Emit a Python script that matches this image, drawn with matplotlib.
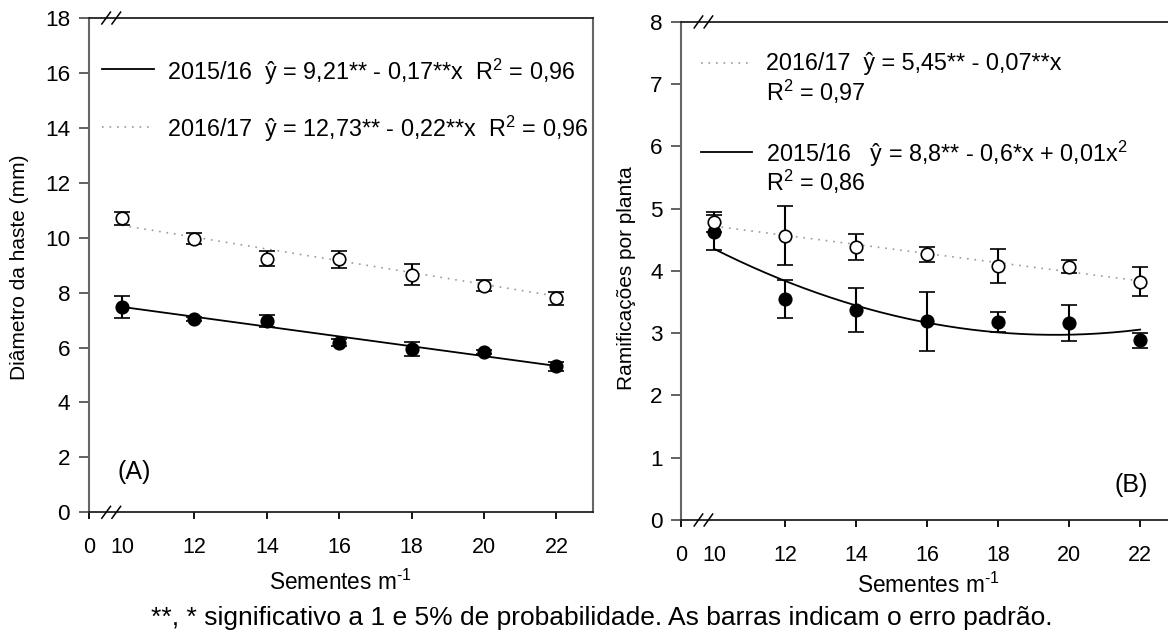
import numpy as np
import matplotlib
matplotlib.use("Agg")
import matplotlib.pyplot as plt
from matplotlib.lines import Line2D

plt.rcParams['font.family'] = ['Liberation Sans', 'DejaVu Sans']
plt.rcParams['mathtext.fontset'] = 'custom'
plt.rcParams['mathtext.rm'] = 'Liberation Sans'
plt.rcParams['mathtext.it'] = 'Liberation Sans:italic'

# dados
sementes = [10, 12, 14, 16, 18, 20, 22]

# (A) diâmetro da haste (mm)
diam_1516 = [7.48, 7.03, 6.97, 6.18, 5.94, 5.84, 5.32]
diam_1516_err = [0.40, 0.07, 0.22, 0.14, 0.25, 0.08, 0.17]
diam_1617 = [10.70, 9.96, 9.24, 9.21, 8.66, 8.25, 7.79]
diam_1617_err = [0.23, 0.20, 0.27, 0.30, 0.40, 0.20, 0.24]
fit_diam_1516 = [7.48, 5.33]   # reta nos extremos x=10 e x=22
fit_diam_1617 = [10.45, 7.87]

# (B) ramificações por planta
ram_1516 = [4.62, 3.55, 3.37, 3.19, 3.18, 3.17, 2.89]
ram_1516_err = [0.28, 0.31, 0.35, 0.47, 0.16, 0.29, 0.12]
ram_1617 = [4.78, 4.57, 4.39, 4.27, 4.08, 4.07, 3.83]
ram_1617_err = [0.16, 0.48, 0.21, 0.12, 0.28, 0.10, 0.23]
fit_ram_1617 = [4.72, 3.84]
curva_ram_1516 = [4.36, 3.83, 3.45, 3.17, 3.02, 2.97, 3.06]  # curva lida em cada x

leg_a = ["2015/16  ŷ = 9,21** - 0,17**x  $\\mathregular{R^2}$ = 0,96",
         "2016/17  ŷ = 12,73** - 0,22**x  $\\mathregular{R^2}$ = 0,96"]
leg_b = ["2016/17  ŷ = 5,45** - 0,07**x", "$\\mathregular{R^2}$ = 0,97",
         "2015/16   ŷ = 8,8** - 0,6*x + 0,01x$\\mathregular{^2}$", "$\\mathregular{R^2}$ = 0,86"]
xlabel = "Sementes m$\\mathregular{^{\u20101}}$"

x0 = 9.08  # posição do "0" (eixo quebrado)
fs = 15.5   # números dos eixos
fs_leg = 16.8

fig = plt.figure(figsize=(11.68, 6.35), dpi=100)
ax_a = fig.add_axes([0.0760, 0.1932, 0.4314, 0.7784])
ax_b = fig.add_axes([0.5834, 0.1811, 0.4231, 0.7843])

dot = dict(color='#9a9a9a', lw=1.2, linestyle=(0, (1, 3.5)))
sol = dict(color='black', lw=1.3)


def pontos(ax, y, err, fill):
    ax.errorbar(sementes, y, yerr=err, fmt='o', ms=9, mfc=fill, mec='black',
                mew=1.2, ecolor='black', elinewidth=1.5, capsize=6, capthick=1.5,
                zorder=3)


def estilo(ax, ymax, ystep):
    ax.set_xlim(x0, 23)
    ax.set_ylim(0, ymax)
    ax.set_yticks(np.arange(0, ymax + 0.1, ystep))
    ax.set_xticks([x0, 10, 12, 14, 16, 18, 20, 22])
    ax.set_xticklabels(['0', '10', '12', '14', '16', '18', '20', '22'])
    ax.xaxis.get_major_ticks()[1].tick1line.set_visible(False)
    ax.tick_params(axis='x', direction='out', length=5, width=1.3, pad=13, labelsize=fs)
    ax.tick_params(axis='y', direction='out', length=7.5, width=1.3, pad=6, labelsize=16.2,
                   color='#555555')
    for s in ['left', 'right']:
        ax.spines[s].set_color('#666666')
        ax.spines[s].set_linewidth(1.5)
    for s in ['top', 'bottom']:
        ax.spines[s].set_color('#222222')
        ax.spines[s].set_linewidth(1.3)
    # marcas de quebra do eixo x
    tr = ax.get_xaxis_transform()
    for yb in [0, 1]:
        for xc in [9.56, 9.84]:
            ax.plot([xc - 0.12, xc + 0.12], [yb - 0.012, yb + 0.012], color='black',
                    lw=1.1, transform=tr, clip_on=False, zorder=5)


# painel A
ax_a.plot([10, 22], fit_diam_1617, **dot, zorder=2)
ax_a.plot([10, 22], fit_diam_1516, **sol, zorder=2)
pontos(ax_a, diam_1516, diam_1516_err, 'black')
pontos(ax_a, diam_1617, diam_1617_err, 'white')
estilo(ax_a, 18, 2)
ax_a.add_line(Line2D([0.0254, 0.130], [0.897, 0.897], transform=ax_a.transAxes, **sol))
ax_a.add_line(Line2D([0.0254, 0.130], [0.779, 0.779], transform=ax_a.transAxes, **dot))
ax_a.text(0.156, 0.891, leg_a[0], transform=ax_a.transAxes, fontsize=fs_leg, va='center')
ax_a.text(0.156, 0.776, leg_a[1], transform=ax_a.transAxes, fontsize=fs_leg, va='center')
ax_a.text(0.0907, 0.082, "(A)", transform=ax_a.transAxes, fontsize=18, ha='center', va='center')

# painel B
coef = np.polyfit(sementes, curva_ram_1516, 2)
xs = np.linspace(10, 22, 200)
ax_b.plot([10, 22], fit_ram_1617, **dot, zorder=2)
ax_b.plot(xs, np.polyval(coef, xs), **sol, zorder=2)
pontos(ax_b, ram_1516, ram_1516_err, 'black')
pontos(ax_b, ram_1617, ram_1617_err, 'white')
estilo(ax_b, 8, 1)
ax_b.add_line(Line2D([0.0389, 0.1428], [0.918, 0.918], transform=ax_b.transAxes, **dot))
ax_b.add_line(Line2D([0.0389, 0.1428], [0.7396, 0.7396], transform=ax_b.transAxes, **sol))
ax_b.text(0.1716, 0.917, leg_b[0], transform=ax_b.transAxes, fontsize=fs_leg, va='center')
ax_b.text(0.1716, 0.860, leg_b[1], transform=ax_b.transAxes, fontsize=fs_leg, va='center')
ax_b.text(0.1716, 0.735, leg_b[2], transform=ax_b.transAxes, fontsize=fs_leg, va='center')
ax_b.text(0.1716, 0.679, leg_b[3], transform=ax_b.transAxes, fontsize=fs_leg, va='center')
ax_b.text(0.91, 0.070, "(B)", transform=ax_b.transAxes, fontsize=18, ha='center', va='center')

# rótulos
fig.text(0.291, 0.0830, xlabel, fontsize=16.3, ha='center', va='center')
fig.text(0.7945, 0.0780, xlabel, fontsize=16.3, ha='center', va='center')
fig.text(0.0171, 0.5795, "Diâmetro da haste (mm)", fontsize=15, rotation=90, ha='center', va='center')
fig.text(0.5368, 0.562, "Ramificações por planta", fontsize=15, rotation=90, ha='center', va='center')
fig.text(0.5154, 0.027, "**, * significativo a 1 e 5% de probabilidade. As barras indicam o erro padrão.",
         fontsize=19, ha='center', va='center')

fig.savefig("out.png", dpi=100)
